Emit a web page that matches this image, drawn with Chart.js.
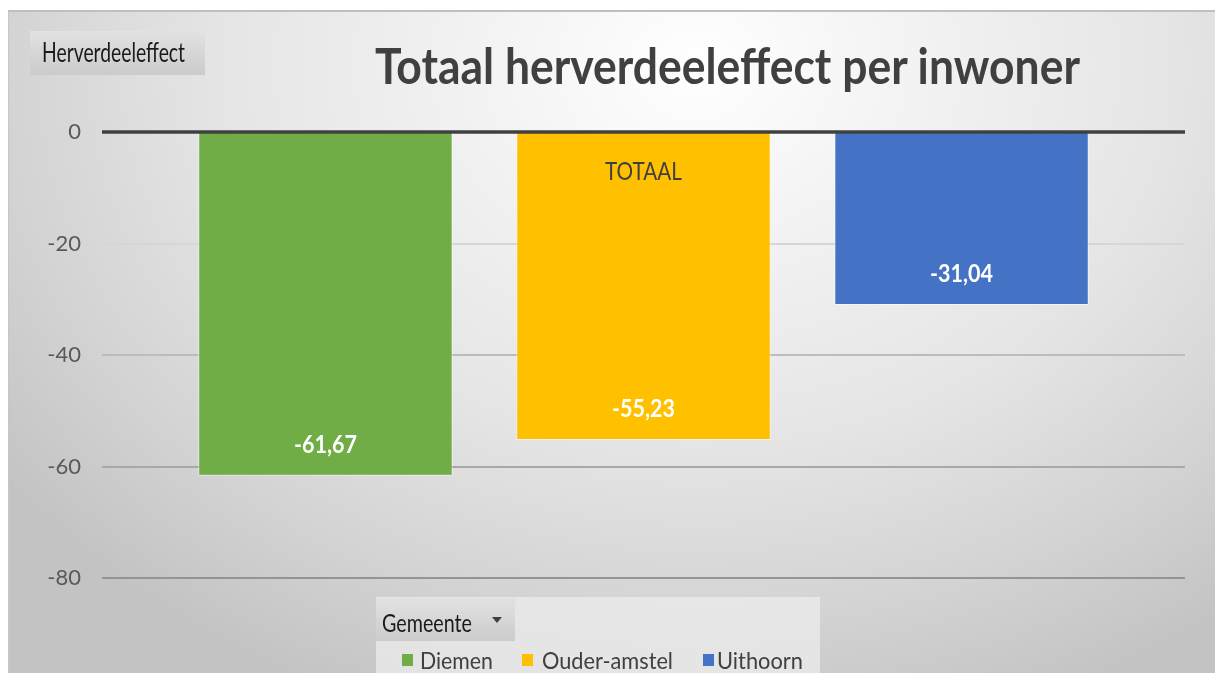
<!DOCTYPE html>
<html><head><meta charset="utf-8">
<script src="https://cdn.jsdelivr.net/npm/chart.js@4/dist/chart.umd.min.js"></script>
<style>
html,body{margin:0;padding:0;background:#fff;width:1215px;height:673px;overflow:hidden;font-family:Lato,sans-serif}
#bg{position:absolute;left:8px;top:10px;width:1207px;height:663px;box-sizing:border-box;border-top:2px solid #bfbfbf;border-left:1px solid #c6c6c6;
background:radial-gradient(ellipse 72% 105% at 57% 8%, #ffffff 0%, #f4f4f4 22%, #e5e5e5 55%, #d3d3d3 80%, #c3c3c3 100%);}
#wrap{position:absolute;left:0;top:0;width:1215px;height:673px}
.fit{position:absolute;white-space:nowrap;transform-origin:0 0;line-height:1}
.btn{position:absolute;background:linear-gradient(#e2e2e2,#cbcbcb);}
#legbox{position:absolute;left:376px;top:597px;width:444px;height:76px;background:rgba(236,236,236,0.75)}
.sq{position:absolute;width:11px;height:12px}
</style></head>
<body>
<div id="bg"></div>
<div class="btn" style="left:30px;top:31px;width:175px;height:44px"></div>
<div id="legbox"></div>
<div class="btn" style="left:376px;top:598px;width:139px;height:43px"></div>
<div id="wrap"><canvas id="c" width="1215" height="673"></canvas></div>
<div id="texts"></div>
<script>
// ---- data ----
const categories = ['TOTAAL'];
const seriesNames = ['Diemen', 'Ouder-amstel', 'Uithoorn'];
const diemenValues = [-61.67];
const ouderAmstelValues = [-55.23];
const uithoornValues = [-31.04];
const yTickValues = [0, -20, -40, -60, -80];
const titleText = 'Totaal herverdeeleffect per inwoner';
const yAxisButtonText = 'Herverdeeleffect';
const legendButtonText = 'Gemeente';

const seriesColors = ['#70AD47', '#FFC000', '#4472C4'];
const seriesValues = [diemenValues, ouderAmstelValues, uithoornValues];

function fmt(v){ return v.toFixed(2).replace('.', ','); }

function drawFit(ctx, txt, cx, baseY, font, targetW, color){
  ctx.save();
  ctx.font = font;
  const w = ctx.measureText(txt).width;
  const s = targetW / w;
  ctx.translate(cx, baseY);
  ctx.scale(s, 1);
  ctx.fillStyle = color;
  ctx.textAlign = 'center';
  ctx.textBaseline = 'alphabetic';
  ctx.fillText(txt, 0, 0);
  ctx.restore();
}

const gridColors = {'-20':'#d6d6d6','-40':'#bcbcbc','-60':'#a8a8a8','-80':'#949494'};

const overlay = {
  id: 'overlay',
  afterDatasetsDraw(chart){
    const ctx = chart.ctx, ys = chart.scales.y, xs = chart.scales.x, ca = chart.chartArea;
    const y0 = ys.getPixelForValue(0);
    ctx.save();
    ctx.strokeStyle = '#404040'; ctx.lineWidth = 3.5;
    ctx.beginPath(); ctx.moveTo(ca.left, y0); ctx.lineTo(ca.right, y0); ctx.stroke();
    ctx.restore();
    chart.data.datasets.forEach((ds, i) => {
      const meta = chart.getDatasetMeta(i);
      meta.data.forEach((bar, j) => {
        drawFit(ctx, fmt(ds.data[j]), bar.x, bar.y - 23, 'bold 24px Lato', 63, '#ffffff');
      });
    });
    categories.forEach((c, j) => {
      drawFit(ctx, c, xs.getPixelForValue(j), y0 + 48, '25px Lato', 77, '#404040');
    });
  }
};

new Chart(document.getElementById('c'), {
  type: 'bar',
  data: {
    labels: categories,
    datasets: seriesNames.map((n, i) => ({
      label: n,
      data: seriesValues[i],
      backgroundColor: seriesColors[i],
      borderColor: 'rgba(255,255,255,0.55)',
      borderWidth: 1,
      categoryPercentage: 0.881,
      barPercentage: 0.8
    }))
  },
  options: {
    responsive: false,
    devicePixelRatio: 1,
    animation: false,
    layout: { padding: { left: 0, top: 132, right: 30, bottom: 95 } },
    plugins: { legend: { display: false }, tooltip: { enabled: false }, title: { display: false } },
    scales: {
      x: { display: false },
      y: {
        min: -80, max: 0,
        afterBuildTicks: s => { s.ticks = yTickValues.map(v => ({ value: v })); },
        afterFit: s => { s.width = 102; },
        border: { display: false },
        grid: {
          drawTicks: false,
          lineWidth: 2,
          color: c => c.tick && c.tick.value === 0 ? 'rgba(0,0,0,0)' : (gridColors[String(c.tick ? c.tick.value : '')] || '#bcbcbc')
        },
        ticks: { color: '#595959', font: { family: 'Lato', size: 22 }, padding: 21 }
      }
    }
  },
  plugins: [overlay]
});

// ---- HTML texts ----
const texts = document.getElementById('texts');
function addText(txt, left, baseline, size, weight, color, targetW){
  const el = document.createElement('div');
  el.className = 'fit';
  el.textContent = txt;
  el.style.left = left + 'px';
  el.style.top = (baseline - 0.887 * size) + 'px';
  el.style.fontSize = size + 'px';
  el.style.fontWeight = weight;
  el.style.color = color;
  texts.appendChild(el);
  const w = el.getBoundingClientRect().width;
  el.style.transform = 'scaleX(' + (targetW / w) + ')';
  return el;
}
addText(titleText, 375, 84, 50, 700, '#404040', 705);
addText(yAxisButtonText, 42, 62, 26, 400, '#1a1a1a', 143);
addText(legendButtonText, 382, 632, 25, 400, '#1a1a1a', 90);
const tri = document.createElement('div');
tri.style.cssText = 'position:absolute;left:492px;top:617px;width:0;height:0;border-left:5px solid transparent;border-right:5px solid transparent;border-top:6px solid #404040';
texts.appendChild(tri);
const legX = [402, 522, 703];
const legTextX = [420, 542, 717];
const legW = [73, 131, 86];
seriesNames.forEach((n, i) => {
  const sq = document.createElement('div');
  sq.className = 'sq';
  sq.style.left = legX[i] + 'px'; sq.style.top = '654px';
  sq.style.background = seriesColors[i];
  texts.appendChild(sq);
  addText(n, legTextX[i], 669, 23, 400, '#404040', legW[i]);
});
</script>
</body></html>
